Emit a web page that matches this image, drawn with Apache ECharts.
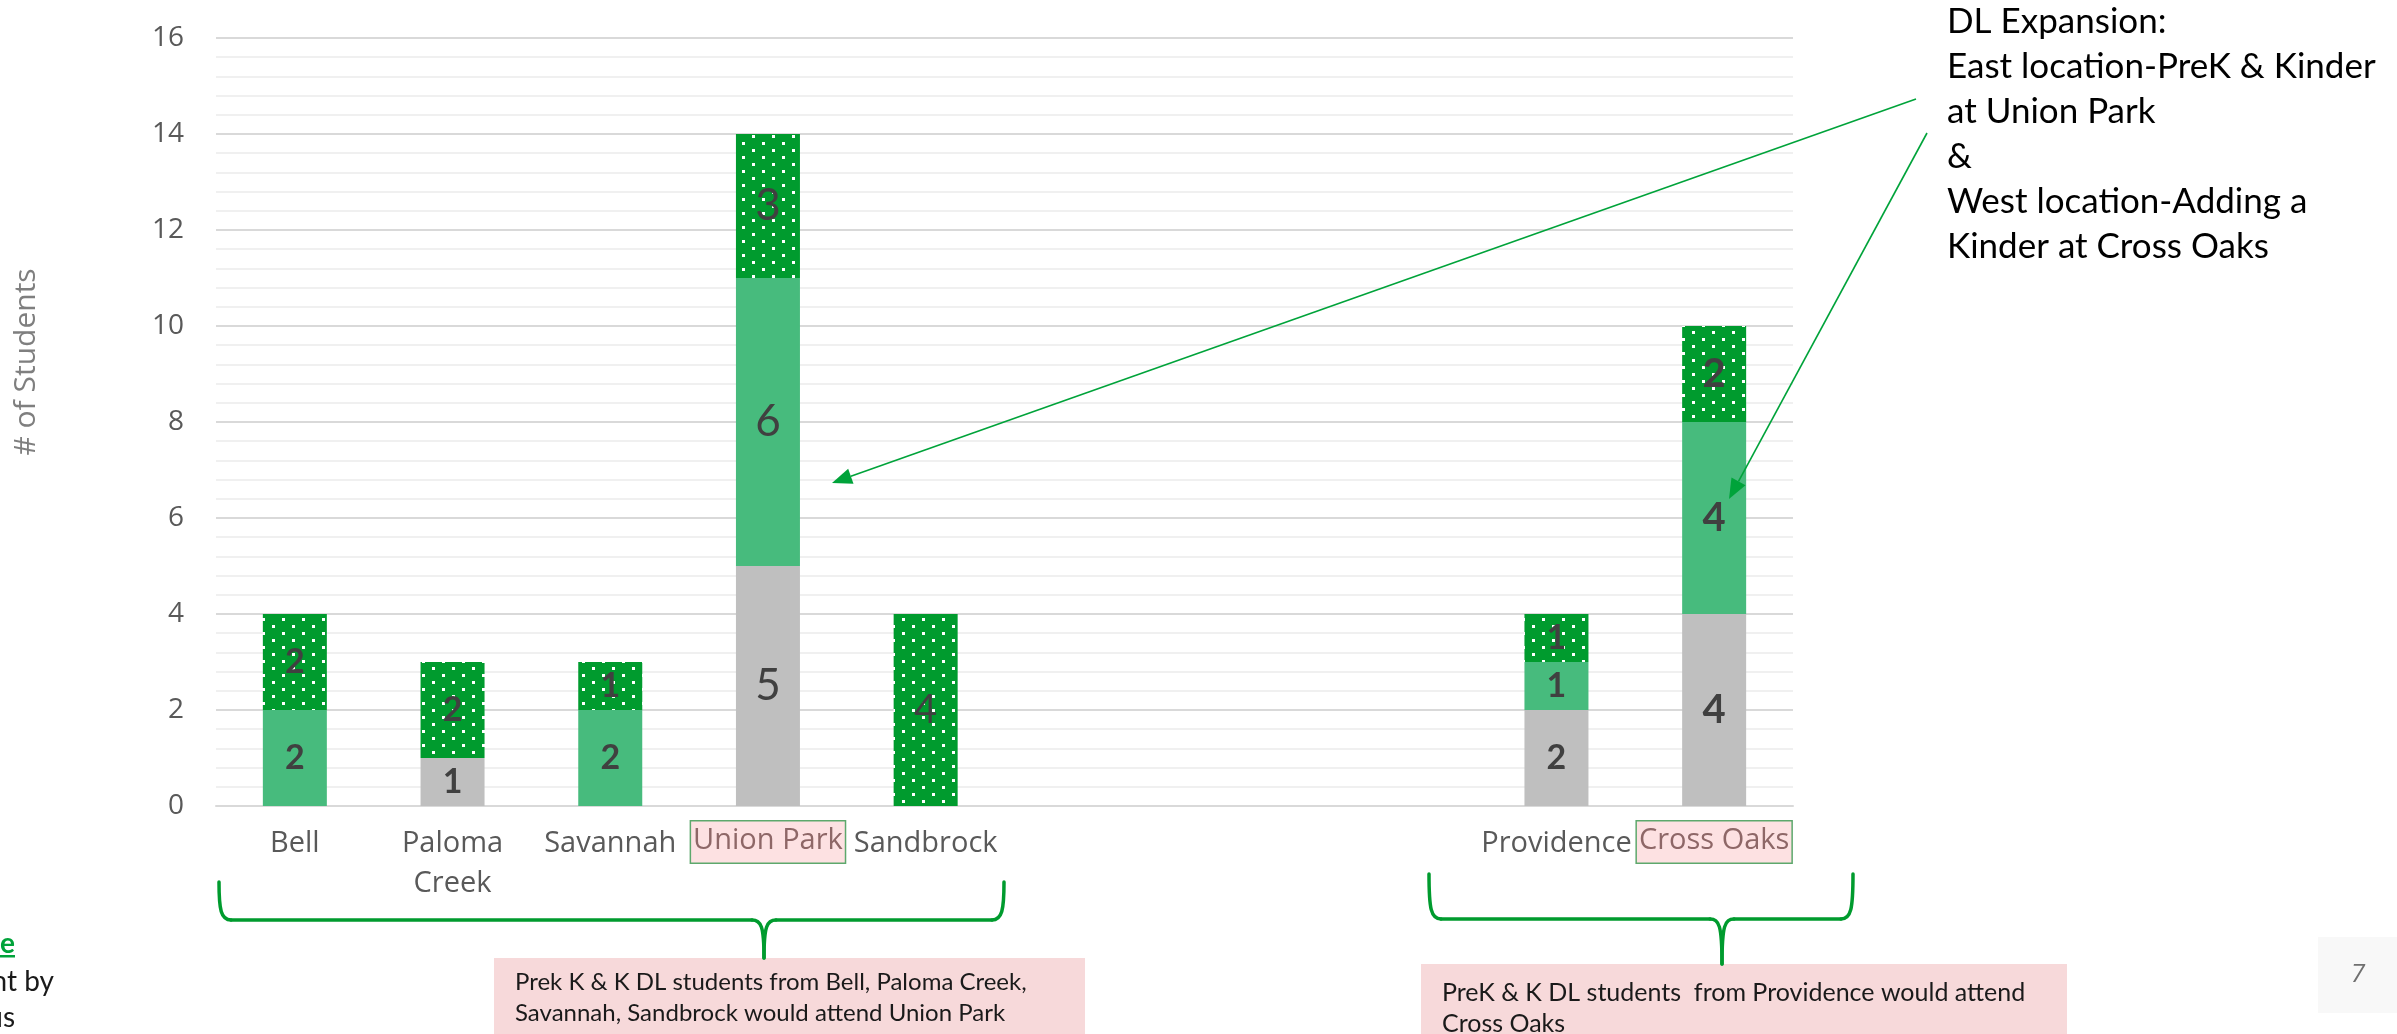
<!DOCTYPE html>
<html>
<head>
<meta charset="utf-8">
<script src="https://cdn.jsdelivr.net/npm/echarts@6/dist/echarts.min.js"></script>
<style>
html,body{margin:0;padding:0;background:#fff;}
#chart{width:2397px;height:1034px;}
</style>
</head>
<body>
<div id="chart"></div>
<script>
// ---- data ----
const categories = ['Bell', 'Paloma\nCreek', 'Savannah', 'Union Park', 'Sandbrock', '', '', '', 'Providence', 'Cross Oaks'];
const highlighted = ['Union Park', 'Cross Oaks'];
const grayValues   = [0, 1, 0, 5, 0, null, null, null, 2, 4];
const greenValues  = [2, 0, 2, 6, 0, null, null, null, 1, 4];
const dottedValues = [2, 2, 1, 3, 4, null, null, null, 1, 2];
const yMin = 0, yMax = 16, yStep = 2;

// ---- styling helpers ----
function labelStyleFor(i) {
  const n = categories[i];
  if (n === 'Union Park') return { fontSize: 44, fontWeight: 'normal' };
  if (n === 'Sandbrock') return { fontSize: 40, fontWeight: 'normal' };
  if (n === 'Cross Oaks') return { fontSize: 40, fontWeight: 'bold' };
  return { fontSize: 34, fontWeight: 'bold' };
}
function items(values) {
  return values.map((v, i) => ({ value: v, label: labelStyleFor(i) }));
}
function makePattern() {
  const c = document.createElement('canvas');
  c.width = 20; c.height = 14;
  const g = c.getContext('2d');
  g.fillStyle = '#009B2E';
  g.fillRect(0, 0, 20, 14);
  g.fillStyle = '#ffffff';
  g.fillRect(2, 2, 3, 3);
  g.fillRect(12, 9, 3, 3);
  return c;
}
const dotPattern = { image: makePattern(), repeat: 'repeat' };

const baseLabel = {
  show: true,
  position: 'inside',
  color: '#404040',
  fontFamily: 'Lato',
  formatter: p => (p.value ? String(p.value) : '')
};

const GREEN = '#00A33A';
function arrow(x1, y1, x2, y2) {
  const dx = x2 - x1, dy = y2 - y1, len = Math.hypot(dx, dy);
  const ux = dx / len, uy = dy / len, L = 20, w = 8;
  const bx = x2 - ux * L, by = y2 - uy * L;
  return [
    { type: 'line', shape: { x1: x1, y1: y1, x2: bx, y2: by }, style: { stroke: GREEN, lineWidth: 1.6 }, z: 50 },
    { type: 'polygon', shape: { points: [[x2, y2], [bx - uy * w, by + ux * w], [bx + uy * w, by - ux * w]] }, style: { fill: GREEN }, z: 50 }
  ];
}
function brace(xl, xr, xc, yTop, yH, yTip) {
  const r = 12;
  const st = { stroke: '#009B2E', lineWidth: 3.5, fill: null, lineCap: 'round' };
  const segs = [
    { type: 'bezierCurve', shape: { x1: xl, y1: yTop, cpx1: xl, cpy1: yH - 10, cpx2: xl + 2, cpy2: yH, x2: xl + r, y2: yH } },
    { type: 'line', shape: { x1: xl + r, y1: yH, x2: xc - r, y2: yH } },
    { type: 'bezierCurve', shape: { x1: xc - r, y1: yH, cpx1: xc - 3, cpy1: yH, cpx2: xc, cpy2: yH + 6, x2: xc, y2: yTip } },
    { type: 'bezierCurve', shape: { x1: xc + r, y1: yH, cpx1: xc + 3, cpy1: yH, cpx2: xc, cpy2: yH + 6, x2: xc, y2: yTip } },
    { type: 'line', shape: { x1: xc + r, y1: yH, x2: xr - r, y2: yH } },
    { type: 'bezierCurve', shape: { x1: xr, y1: yTop, cpx1: xr, cpy1: yH - 10, cpx2: xr - 2, cpy2: yH, x2: xr - r, y2: yH } }
  ];
  return segs.map(s => Object.assign(s, { style: st, z: 40 }));
}
function noteBox(x, y, w, h, text, fs, ty) {
  return [
    { type: 'rect', shape: { x: x, y: y, width: w, height: h }, style: { fill: '#F7D9DA' }, z: 30 },
    { type: 'text', x: x + 21, y: y + ty, style: { text: text, fill: '#1a1a1a', fontFamily: 'Lato', fontSize: fs, lineHeight: 31 }, z: 31 }
  ];
}

const chart = echarts.init(document.getElementById('chart'), null, { renderer: 'canvas' });

const option = {
  backgroundColor: '#ffffff',
  animation: false,
  grid: { left: 216, right: 604, top: 38, bottom: 228, containLabel: false },
  xAxis: {
    type: 'category',
    data: categories,
    axisTick: { show: false },
    axisLine: { show: true, lineStyle: { color: '#D9D9D9', width: 2 } },
    axisLabel: {
      interval: 0,
      margin: 18,
      color: '#595959',
      fontFamily: 'Open Sans',
      fontSize: 29,
      lineHeight: 40,
      formatter: v => highlighted.includes(v) ? '{hl|' + v + '}' : v,
      rich: {
        hl: {
          color: '#8E6767',
          fontFamily: 'Open Sans',
          fontSize: 29,
          lineHeight: 36,
          backgroundColor: '#FDE1E2',
          borderColor: '#5DA86C',
          borderWidth: 1.5,
          padding: [5, 2, 7, 2]
        }
      }
    }
  },
  yAxis: {
    type: 'value',
    min: yMin, max: yMax, interval: yStep,
    axisLine: { show: false },
    axisTick: { show: false },
    axisLabel: { color: '#595959', fontFamily: 'Open Sans', fontSize: 28, margin: 32 },
    splitLine: { show: true, lineStyle: { color: '#D9D9D9', width: 2 } },
    minorTick: { show: false, splitNumber: 5 },
    minorSplitLine: { show: true, lineStyle: { color: '#F0F0F0', width: 2 } }
  },
  series: [
    { name: 'gray', type: 'bar', stack: 'total', barWidth: 64, itemStyle: { color: '#BFBFBF' }, label: baseLabel, data: items(grayValues) },
    { name: 'green', type: 'bar', stack: 'total', barWidth: 64, itemStyle: { color: '#47BB7D' }, label: baseLabel, data: items(greenValues) },
    { name: 'dotted', type: 'bar', stack: 'total', barWidth: 64, itemStyle: { color: dotPattern }, label: baseLabel, data: items(dottedValues) }
  ],
  graphic: [
    { type: 'text', x: 26, y: 362, rotation: Math.PI / 2, style: { text: '# of Students', fill: '#7F7F7F', fontFamily: 'Open Sans', fontSize: 30, align: 'center', verticalAlign: 'middle' }, z: 20 },
    { type: 'text', x: 1947, y: -1, style: { text: 'DL Expansion:\nEast location-PreK & Kinder\nat Union Park\n&\nWest location-Adding a\nKinder at Cross Oaks', fill: '#000000', fontFamily: 'Lato', fontSize: 35, lineHeight: 45, verticalAlign: 'top' }, z: 20 },
    ...arrow(1916, 99, 832, 483),
    ...arrow(1927, 133, 1729, 499),
    ...brace(219, 1004, 764, 882, 920, 958),
    ...brace(1429, 1853, 1722, 874, 919, 964),
    ...noteBox(494, 958, 591, 90, 'Prek K & K DL students from Bell, Paloma Creek,\nSavannah, Sandbrock would attend Union Park', 24, 9),
    ...noteBox(1421, 964, 646, 84, 'PreK & K DL students  from Providence would attend\nCross Oaks', 25, 13),
    { type: 'rect', shape: { x: 2318, y: 937, width: 79, height: 76 }, style: { fill: '#F8F8F8' }, z: 10 },
    { type: 'text', x: 2358, y: 975, style: { text: '7', fill: '#707070', fontFamily: 'Open Sans', fontStyle: 'italic', fontSize: 26, align: 'center', verticalAlign: 'middle' }, z: 11 },
    { type: 'text', x: 15, y: 944, style: { text: 'e', fill: GREEN, fontFamily: 'Lato', fontWeight: 'bold', fontSize: 28, align: 'right', verticalAlign: 'middle' }, z: 11 },
    { type: 'rect', shape: { x: 0, y: 955, width: 15, height: 2.5 }, style: { fill: GREEN }, z: 11 },
    { type: 'text', x: 54, y: 982, style: { text: 'nt by', fill: '#1a1a1a', fontFamily: 'Lato', fontSize: 28, align: 'right', verticalAlign: 'middle' }, z: 11 },
    { type: 'text', x: 15, y: 1018, style: { text: 'us', fill: '#1a1a1a', fontFamily: 'Lato', fontSize: 28, align: 'right', verticalAlign: 'middle' }, z: 11 }
  ]
};
chart.setOption(option);
</script>
</body>
</html>
